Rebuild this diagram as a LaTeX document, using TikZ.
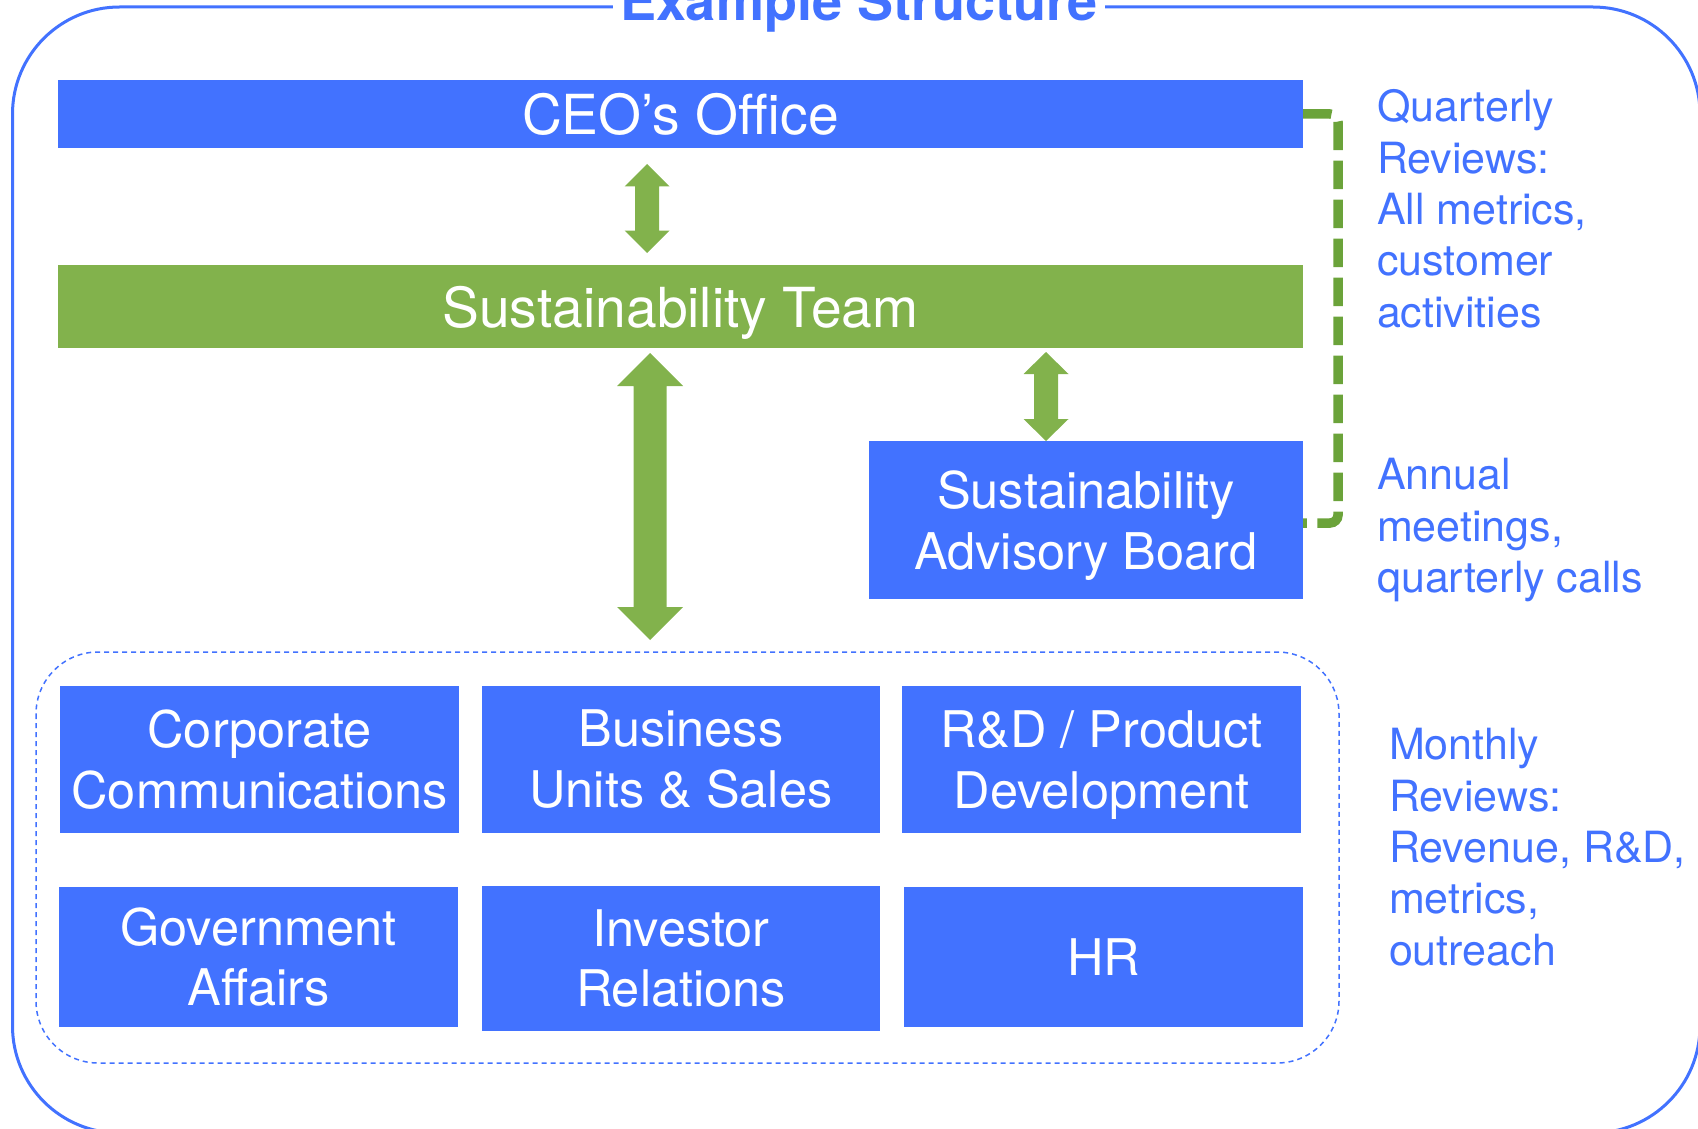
\documentclass[tikz,border=0pt]{standalone}
\usepackage{fontspec}
\setmainfont{TeX Gyre Heros}
\usetikzlibrary{calc}

\definecolor{boxblue}{HTML}{4272FF}
\definecolor{teamgreen}{HTML}{82B24C}
\definecolor{linkgreen}{HTML}{6BA33A}

% font sizes (1 unit = 0.5pt)
\newcommand\fsTitle{\bfseries\fontsize{27pt}{32pt}\selectfont}
\newcommand\fsHead{\fontsize{27.6pt}{32pt}\selectfont}
\newcommand\fsDept{\fontsize{25.25pt}{30.35pt}\selectfont}
\newcommand\fsBoard{\fontsize{25.3pt}{30.85pt}\selectfont}
\newcommand\fsNote{\fontsize{21.5pt}{25.65pt}\selectfont}

% vertical two-headed block arrow between two tip points
% #1 top tip, #2 bottom tip, #3 half shaft width, #4 half head width, #5 head length
\newcommand\blockarrow[5]{%
  \fill[teamgreen] (#1) -- ++(#4,#5) -- ++(-#4+#3,0) -- ($(#2)+(#3,-#5)$)
    -- ++(#4-#3,0) -- (#2) -- ++(-#4,-#5) -- ++(#4-#3,0)
    -- ($(#1)+(-#3,#5)$) -- ++(#3-#4,0) -- cycle;}

\begin{document}
\begin{tikzpicture}[x=0.5pt,y=-0.5pt,
  box/.style={inner sep=0pt, outer sep=0pt, align=center, text=white},
  bluebox/.style={box, fill=boxblue},
  dept/.style={bluebox, font=\fsDept},
  note/.style={anchor=base west, inner sep=0pt, outer sep=0pt, align=left,
               text=boxblue, font=\fsNote},
  link/.style={linkgreen, line width=4.75pt, rounded corners=4pt,
               dash pattern=on 14.25pt off 5.25pt}]

\useasboundingbox (0,0) rectangle (1698,1129);
\clip (0,0) rectangle (1698,1129);

% outer frame and its title
\draw[boxblue, line width=1.5pt, rounded corners=53.5pt] (12.5,7) rectangle (1700,1133);
\node[font=\fsTitle, text=boxblue, fill=white, inner xsep=3.5pt, inner ysep=2pt,
      anchor=base] (title) at (859,21) {Example Structure};

% top level
\node[bluebox, font=\fsHead, text depth=0pt, minimum width=622.5pt, minimum height=34pt]
  (ceo) at (680.5,114) {CEO’s Office};
\node[box, fill=teamgreen, font=\fsHead, text depth=0pt, minimum width=622.5pt,
      minimum height=41.5pt] (team) at (680.5,306.5) {Sustainability Team};
\node[bluebox, font=\fsBoard, minimum width=217pt, minimum height=79pt]
  (board) at (1086,520) {Sustainability\\\raisebox{0pt}[\height][0pt]{Advisory Board}};

% departments group
\draw[boxblue, line width=0.75pt, dash pattern=on 2.5pt off 2pt, rounded corners=31pt]
  (36,652) rectangle (1339,1063);
\node[dept, minimum width=199.5pt, minimum height=73.5pt] (corp) at (259.5,759.5)
  {Corporate\\Communications};
\node[dept, minimum width=199pt, minimum height=73.5pt] (biz) at (681,759.5)
  {Business\\Units \& Sales};
\node[dept, minimum width=199.5pt, minimum height=73.5pt] (rnd) at (1101.5,759.5)
  {R\&D / Product\\\raisebox{0pt}[\height][0pt]{Development}};
\node[dept, minimum width=199.5pt, minimum height=70pt] (gov) at (258.5,957)
  {Government\\Affairs};
\node[dept, minimum width=199pt, minimum height=72.5pt] (inv) at (681,958.5)
  {Investor\\Relations};
\node[dept, minimum width=199.5pt, minimum height=70pt] (hr) at (1103.5,957) {HR};

% block arrows
\coordinate (a1t) at ($(647,0 |- ceo.south)+(0,16)$);
\coordinate (a1b) at ($(647,0 |- team.north)+(0,-12)$);
\coordinate (a2t) at ($(650,0 |- team.south)+(0,5)$);
\coordinate (a2b) at ($(650,0 |- biz.north)+(0,-46)$);
\coordinate (a3t) at ($(1046,0 |- team.south)+(0,4)$);
\coordinate (a3b) at (1046,0 |- board.north);
\blockarrow{a1t}{a1b}{12}{22.5}{22.5}
\blockarrow{a2t}{a2b}{16.5}{33}{33}
\blockarrow{a3t}{a3b}{12}{22.5}{22}

% review link between CEO office and advisory board
\draw[link] (ceo.east) -- ++(35,0) |- ([yshift=-1.5pt]board.east);

% review notes (anchored on the baseline of their last line)
\node[note] (qnote) at (1377,327) {Quarterly\\Reviews:\\All metrics,\\customer\\activities};
\node[note] (anote) at (1377,592.5) {Annual\\meetings,\\quarterly calls};
\node[note] (mnote) at (1389,965) {Monthly\\Reviews:\\Revenue, R\&D,\\metrics,\\outreach};
\end{tikzpicture}
\end{document}
